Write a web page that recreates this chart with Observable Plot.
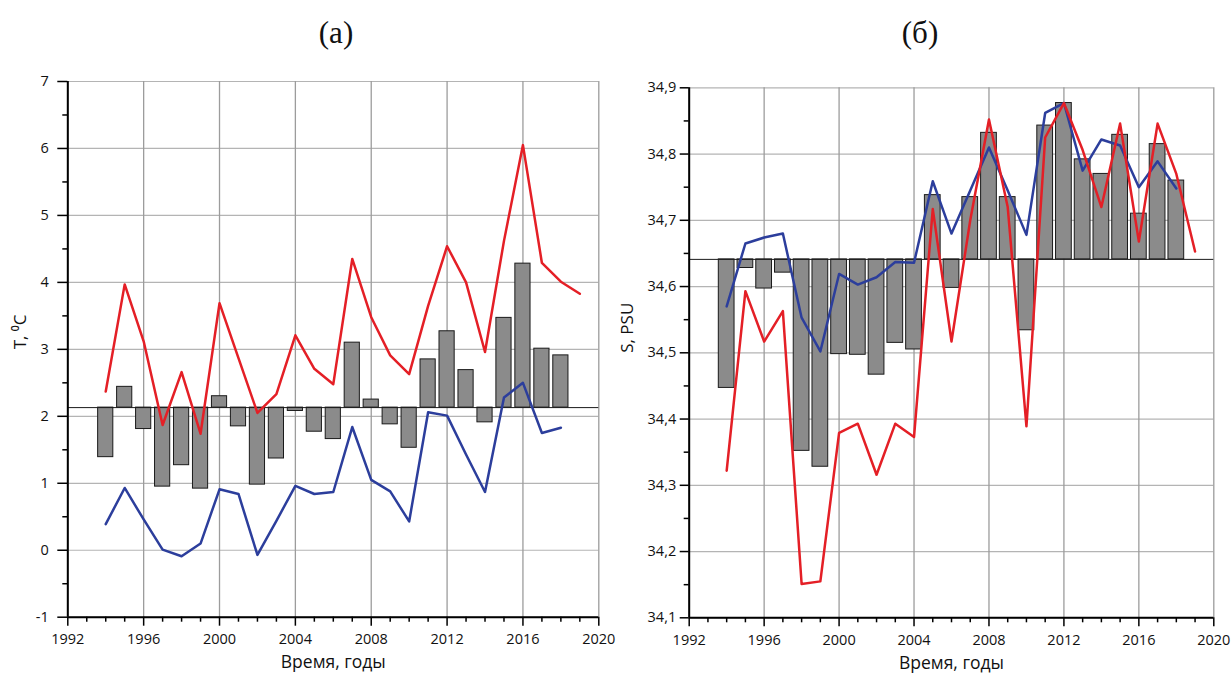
<!DOCTYPE html>
<html>
<head>
<meta charset="utf-8">
<script src="https://cdn.jsdelivr.net/npm/d3@7"></script>
<script src="https://cdn.jsdelivr.net/npm/@observablehq/plot@0.6"></script>
<style>
  body { margin: 0; background: #fff; }
  #wrap { position: relative; width: 1231px; height: 679px; overflow: hidden; background: #fff; }
  .title { position: absolute; font-family: "Liberation Serif", "DejaVu Serif", serif; font-size: 31px; color: #111; transform: translate(-50%, -50%); white-space: nowrap; }
  .panel { position: absolute; top: 0; }
</style>
</head>
<body>
<div id="wrap">
  <div class="title" style="left:336px; top:33px;">(а)</div>
  <div class="title" style="left:920px; top:33px;">(б)</div>
  <div class="panel" id="left" style="left:0px;"></div>
  <div class="panel" id="right" style="left:615px;"></div>
</div>
<script>
// ---- Data ----
const barYears = d3.range(1994, 2019);        // 1994..2018
const redYears = d3.range(1994, 2020);        // 1994..2019
const blueYears = d3.range(1994, 2019);       // 1994..2018

// Panel (а): temperature, °C
const tempBars = [1.39, 2.44, 1.81, 0.95, 1.27, 0.92, 2.30, 1.85, 0.98, 1.37, 2.08, 1.77, 1.66, 3.10, 2.25, 1.88, 1.53, 2.85, 3.27, 2.69, 1.91, 3.47, 4.28, 3.01, 2.91];
const tempRed  = [2.37, 3.97, 3.12, 1.87, 2.66, 1.74, 3.69, 2.87, 2.05, 2.33, 3.21, 2.71, 2.48, 4.35, 3.48, 2.91, 2.63, 3.65, 4.54, 4.00, 2.96, 4.62, 6.05, 4.29, 4.01, 3.83];
const tempBlue = [0.39, 0.93, 0.46, 0.01, -0.09, 0.10, 0.91, 0.84, -0.07, 0.44, 0.96, 0.84, 0.87, 1.84, 1.05, 0.88, 0.43, 2.06, 2.01, 1.43, 0.87, 2.28, 2.50, 1.75, 1.83];
const tempBase = 2.13;

// Panel (б): salinity, PSU
const salBars = [34.447, 34.628, 34.597, 34.621, 34.352, 34.328, 34.498, 34.497, 34.467, 34.515, 34.505, 34.738, 34.598, 34.735, 34.832, 34.735, 34.534, 34.843, 34.877, 34.792, 34.770, 34.829, 34.710, 34.815, 34.760];
const salRed  = [34.322, 34.593, 34.517, 34.563, 34.151, 34.155, 34.379, 34.393, 34.316, 34.393, 34.373, 34.717, 34.517, 34.700, 34.852, 34.720, 34.389, 34.825, 34.877, 34.806, 34.720, 34.846, 34.668, 34.846, 34.770, 34.653];
const salBlue = [34.570, 34.665, 34.674, 34.680, 34.553, 34.502, 34.619, 34.603, 34.614, 34.637, 34.636, 34.759, 34.680, 34.745, 34.810, 34.745, 34.678, 34.862, 34.877, 34.775, 34.822, 34.813, 34.750, 34.789, 34.748];
const salBase = 34.641;

const xMajor = d3.range(1992, 2021, 4);
const xMinor = d3.range(1992, 2021, 1).filter(d => (d - 1992) % 4 !== 0);
const tempMajor = d3.range(-1, 8, 1);
const tempMinor = d3.range(-0.5, 7, 1);
const salMajor = d3.range(0, 9).map(i => +(34.1 + i * 0.1).toFixed(2));
const salMinor = d3.range(0, 8).map(i => +(34.15 + i * 0.1).toFixed(3));

const xTitle = "Время, годы";
const yTitleT = "T, \u2070C";
const yTitleS = "S, PSU";

const RED = "#e41f26";
const BLUE = "#2c3e9c";
const BARFILL = "#8b8b8b";

function panel(opts) {
  const bars = barYears.map((y, i) => ({year: y, v: opts.bars[i]}));
  const red = redYears.map((y, i) => ({year: y, v: opts.red[i]}));
  const blue = blueYears.map((y, i) => ({year: y, v: opts.blue[i]}));
  return Plot.plot({
    width: opts.width, height: 679,
    marginLeft: opts.ml, marginRight: opts.mr, marginTop: opts.mt, marginBottom: opts.mb,
    style: {fontFamily: "'Open Sans', 'DejaVu Sans', sans-serif", fontSize: "14.5px", background: "transparent", color: "#111", overflow: "visible"},
    x: {domain: [1992, 2020]},
    y: {domain: opts.ydomain},
    marks: [
      Plot.gridY(opts.yMajor, {stroke: "#b4b4b4", strokeOpacity: 1, strokeWidth: 1.2}),
      Plot.gridX(xMajor, {stroke: "#9c9c9c", strokeOpacity: 1, strokeWidth: 1.3}),
      Plot.rectY(bars, {x1: d => d.year - opts.hw, x2: d => d.year + opts.hw, y1: opts.base, y2: "v", fill: BARFILL, stroke: "#1a1a1a", strokeWidth: 1}),
      Plot.ruleY([opts.base], {stroke: "#1a1a1a", strokeWidth: 1}),
      Plot.line(blue, {x: "year", y: "v", stroke: BLUE, strokeWidth: 2.5}),
      Plot.line(red, {x: "year", y: "v", stroke: RED, strokeWidth: 2.5}),
      Plot.ruleX([1992], {stroke: "#000", strokeWidth: 2}),
      Plot.ruleY([opts.ydomain[0]], {stroke: "#000", strokeWidth: 2}),
      Plot.axisY(opts.yMajor, {anchor: "left", tickSize: opts.ytick, tickPadding: opts.ypad, tickFormat: opts.yfmt, label: null, stroke: "#000", strokeWidth: 1.5}),
      Plot.axisY(opts.yMinor, {anchor: "left", tickSize: 5, tickFormat: () => "", label: null, stroke: "#000", strokeWidth: 1.5}),
      Plot.axisX(xMajor, {anchor: "bottom", tickSize: 9, tickPadding: 8, tickFormat: d => String(d), label: null, stroke: "#000", strokeWidth: 1.5}),
      Plot.axisX(xMinor, {anchor: "bottom", tickSize: 5, tickFormat: () => "", label: null, stroke: "#000", strokeWidth: 1.5}),
      Plot.text([xTitle], {text: d => d, frameAnchor: "bottom", dy: 51, fontSize: 17.5, fill: "#111"}),
      Plot.text([opts.ytitle], {text: d => d, frameAnchor: "left", rotate: -90, dx: opts.ytdx, fontSize: 17, fill: "#111"})
    ]
  });
}

document.getElementById("left").append(panel({
  width: 615, ml: 67.3, mr: 16.7, mt: 81, mb: 62.3,
  ydomain: [-1, 7], yMajor: tempMajor, yMinor: tempMinor,
  bars: tempBars, red: tempRed, blue: tempBlue, base: tempBase, hw: 0.4,
  ytick: 10, ypad: 9, yfmt: d => String(d),
  ytitle: yTitleT, ytdx: -47
}));

document.getElementById("right").append(panel({
  width: 616, ml: 73.7, mr: 17.7, mt: 87.3, mb: 61.7,
  ydomain: [34.1, 34.9], yMajor: salMajor, yMinor: salMinor,
  bars: salBars, red: salRed, blue: salBlue, base: salBase, hw: 0.42,
  ytick: 9, ypad: 4, yfmt: d => d.toFixed(1).replace(".", ","),
  ytitle: yTitleS, ytdx: -62
}));
</script>
</body>
</html>
